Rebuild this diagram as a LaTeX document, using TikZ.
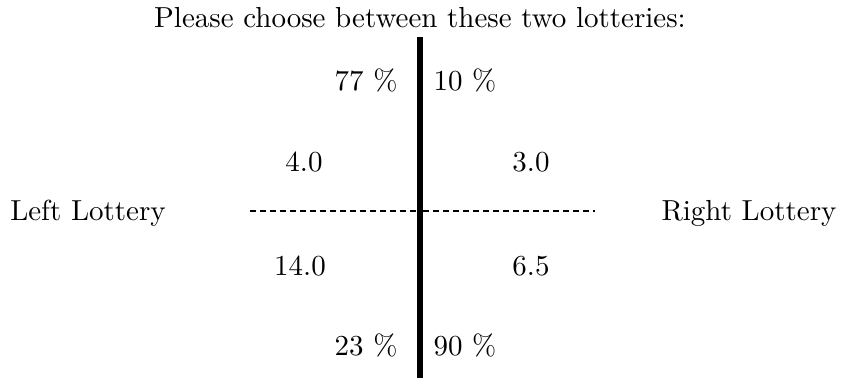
\documentclass[tikz,border=0pt]{standalone}
\begin{document}
\begin{tikzpicture}[
      x=0.345pt, y=-0.345pt,
      lbl/.style={inner sep=0pt, font=\normalsize},
      divider/.style={line width=1.8pt},
      split/.style={dash pattern=on 2pt off 1.45pt, line width=0.6pt}
  ]
  \useasboundingbox (0,0) rectangle (841,378);

  % Title
  \node[lbl] (title) at (420,18) {Please choose between these two lotteries:};

  % Divider end points
  \coordinate (top) at (420,37);
  \coordinate (bottom) at (420,378);
  \coordinate (lstart) at (250,211);
  \coordinate (lend) at (417,211);
  \coordinate (rstart) at (423,211);
  \coordinate (rend) at (595,211);

  % Probabilities
  \node[lbl, anchor=east] (ptopleft) at (398,80) {77 \%};
  \node[lbl, anchor=west] (ptopright) at (433,80) {10 \%};
  \node[lbl, anchor=east] (pbotleft) at (398,345) {23 \%};
  \node[lbl, anchor=west] (pbotright) at (433,345) {90 \%};

  % Outcomes
  \node[lbl] (otopleft) at (304,162) {4.0};
  \node[lbl] (otopright) at (531,162) {3.0};
  \node[lbl] (obotleft) at (300,266) {14.0};
  \node[lbl] (obotright) at (531,266) {6.5};

  % Lotteries
  \node[lbl] (left) at (88,213) {Left Lottery};
  \node[lbl] (right) at (749,213) {Right Lottery};

  % Lines
  \draw[divider] (top) -- (bottom);
  \draw[split] (lstart) -- (lend);
  \draw[split] (rstart) -- (rend);

\end{tikzpicture}
\end{document}
